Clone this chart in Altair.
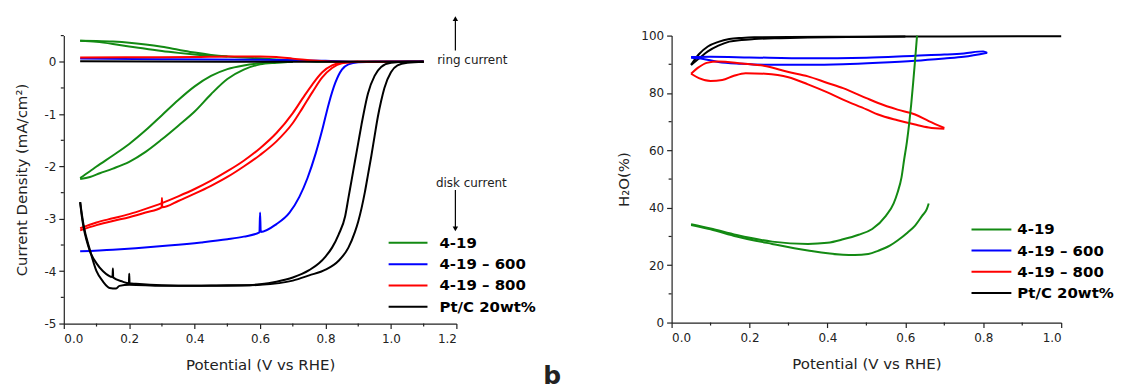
import altair as alt
import pandas as pd

SERIES = ["4-19", "4-19 – 600", "4-19 – 800", "Pt/C 20wt%"]
COLORS = ["#138a13", "#0000ff", "#ff0000", "#000000"]

# ---------------- Panel a: current density vs potential ----------------
# 4-19 (green) disk current, two scan branches
g_disk1_v = [0.05, 0.08, 0.10, 0.15, 0.20, 0.25, 0.30, 0.35, 0.40, 0.45, 0.50, 0.55, 0.60, 0.65, 0.70]
g_disk1_j = [-2.22, -2.09, -2.00, -1.79, -1.57, -1.31, -1.02, -0.73, -0.47, -0.27, -0.14, -0.07, -0.03, -0.01, 0.0]
g_disk2_v = [0.05, 0.08, 0.11, 0.15, 0.20, 0.25, 0.30, 0.35, 0.40, 0.45, 0.50, 0.55, 0.60, 0.65, 0.70]
g_disk2_j = [-2.24, -2.20, -2.13, -2.04, -1.91, -1.72, -1.48, -1.22, -0.95, -0.62, -0.33, -0.15, -0.05, -0.02, 0.0]
# 4-19 ring current, two branches
g_ring1_v = [0.05, 0.10, 0.15, 0.20, 0.25, 0.30, 0.35, 0.40, 0.45, 0.50, 0.55, 0.60, 0.65, 0.70, 0.75, 0.80, 0.90, 1.10]
g_ring1_j = [0.40, 0.395, 0.385, 0.365, 0.33, 0.285, 0.23, 0.175, 0.13, 0.10, 0.08, 0.065, 0.045, 0.025, 0.01, 0.0, 0.0, 0.0]
g_ring2_v = [0.05, 0.10, 0.15, 0.20, 0.25, 0.30, 0.35, 0.40, 0.45, 0.50]
g_ring2_j = [0.40, 0.38, 0.34, 0.29, 0.25, 0.205, 0.17, 0.14, 0.115, 0.10]

# 4-19 - 600 (blue)
b_disk_v = [0.05, 0.15, 0.22, 0.32, 0.42, 0.50, 0.55, 0.598, 0.600, 0.602, 0.65, 0.69, 0.72, 0.745, 0.77, 0.79, 0.81, 0.83, 0.85, 0.87, 0.90, 0.95, 1.10]
b_disk_j = [-3.62, -3.59, -3.56, -3.51, -3.45, -3.39, -3.34, -3.26, -2.88, -3.25, -3.10, -2.88, -2.58, -2.22, -1.75, -1.30, -0.80, -0.40, -0.15, -0.05, -0.01, 0.0, 0.0]
b_ring_v = [0.05, 0.30, 0.60, 0.80, 0.90, 1.10]
b_ring_j = [0.06, 0.05, 0.04, 0.02, 0.0, 0.01]

# 4-19 - 800 (red)
r_disk1_v = [0.05, 0.10, 0.15, 0.20, 0.25, 0.30, 0.35, 0.40, 0.45, 0.50, 0.55, 0.60, 0.65, 0.70, 0.73, 0.76, 0.79, 0.82, 0.85, 0.90, 1.10]
r_disk1_j = [-3.18, -3.07, -2.99, -2.91, -2.81, -2.70, -2.57, -2.43, -2.27, -2.09, -1.89, -1.65, -1.36, -0.98, -0.70, -0.43, -0.20, -0.07, -0.02, 0.0, 0.0]
r_disk2_v = [0.05, 0.10, 0.15, 0.20, 0.25, 0.299, 0.300, 0.301, 0.35, 0.40, 0.45, 0.50, 0.55, 0.60, 0.65, 0.70, 0.73, 0.76, 0.79, 0.82, 0.85, 0.90]
r_disk2_j = [-3.22, -3.12, -3.04, -2.97, -2.88, -2.78, -2.60, -2.78, -2.66, -2.52, -2.37, -2.20, -2.00, -1.78, -1.52, -1.17, -0.88, -0.58, -0.30, -0.12, -0.03, 0.0]
r_ring_v = [0.05, 0.20, 0.40, 0.50, 0.60, 0.65, 0.70, 0.75, 0.80, 0.85, 1.10]
r_ring_j = [0.08, 0.085, 0.09, 0.10, 0.10, 0.09, 0.06, 0.03, 0.01, 0.0, 0.0]

# Pt/C 20wt% (black)
k_disk1_v = [0.05, 0.055, 0.06, 0.07, 0.08, 0.10, 0.12, 0.149, 0.150, 0.151, 0.18, 0.199, 0.200, 0.201, 0.22, 0.30, 0.40, 0.50, 0.55, 0.60, 0.65, 0.70, 0.75, 0.78, 0.80, 0.82, 0.84, 0.86, 0.87, 0.88, 0.89, 0.90, 0.91, 0.93, 0.95, 0.97, 1.00, 1.05, 1.10]
k_disk1_j = [-2.68, -2.95, -3.15, -3.42, -3.62, -3.85, -4.00, -4.11, -3.95, -4.12, -4.20, -4.23, -4.05, -4.23, -4.24, -4.27, -4.28, -4.27, -4.27, -4.25, -4.20, -4.12, -3.98, -3.85, -3.72, -3.55, -3.30, -2.95, -2.60, -2.25, -1.90, -1.55, -1.20, -0.60, -0.27, -0.10, -0.02, 0.0, 0.0]
k_disk2_v = [0.05, 0.06, 0.08, 0.10, 0.12, 0.14, 0.16, 0.17, 0.20, 0.30, 0.50, 0.60, 0.70, 0.75, 0.80, 0.84, 0.87, 0.89, 0.90, 0.91, 0.92, 0.93, 0.94, 0.95, 0.96, 0.97, 0.98, 1.00, 1.02, 1.05, 1.10]
k_disk2_j = [-2.68, -3.10, -3.60, -4.00, -4.20, -4.32, -4.33, -4.28, -4.26, -4.28, -4.28, -4.26, -4.18, -4.08, -3.97, -3.80, -3.55, -3.25, -3.05, -2.80, -2.50, -2.15, -1.80, -1.42, -1.05, -0.75, -0.50, -0.20, -0.07, -0.02, 0.0]
k_ring_v = [0.05, 0.50, 1.10]
k_ring_j = [0.01, 0.0, 0.0]

# ---------------- Panel b: H2O (%) vs potential ----------------
g_h1_v = [0.05, 0.10, 0.167, 0.258, 0.35, 0.40, 0.44, 0.48, 0.515, 0.55, 0.57, 0.58, 0.59, 0.597, 0.604, 0.61, 0.615, 0.62, 0.625, 0.63]
g_h1_p = [34.3, 32.8, 30.5, 28.2, 27.4, 27.8, 29.0, 30.6, 32.6, 37.2, 41.5, 45.3, 50.5, 56.9, 63.0, 69.6, 76.0, 83.5, 91.5, 100.0]
g_h2_v = [0.05, 0.10, 0.167, 0.258, 0.35, 0.44, 0.47, 0.505, 0.53, 0.56, 0.58, 0.606, 0.625, 0.643, 0.655, 0.66]
g_h2_p = [34.0, 32.5, 30.0, 27.4, 25.1, 23.6, 23.5, 23.9, 25.0, 26.8, 28.6, 31.4, 33.8, 37.2, 39.5, 41.5]

b_h1_v = [0.05, 0.10, 0.20, 0.35, 0.50, 0.625, 0.70, 0.75, 0.80, 0.81]
b_h1_p = [92.5, 92.6, 92.4, 92.1, 92.3, 93.0, 93.4, 93.8, 94.5, 94.0]
b_h2_v = [0.05, 0.075, 0.12, 0.18, 0.26, 0.35, 0.44, 0.53, 0.625, 0.70, 0.75, 0.81]
b_h2_p = [92.3, 92.0, 90.8, 90.2, 89.8, 89.8, 90.0, 90.5, 91.2, 92.0, 92.6, 94.0]

r_h1_v = [0.05, 0.07, 0.09, 0.12, 0.18, 0.24, 0.30, 0.35, 0.40, 0.44, 0.50, 0.53, 0.58, 0.625, 0.66, 0.70]
r_h1_p = [86.7, 89.0, 90.5, 91.0, 90.3, 89.4, 87.3, 85.8, 83.5, 81.7, 78.2, 76.5, 74.2, 72.5, 70.2, 67.8]
r_h2_v = [0.05, 0.07, 0.10, 0.13, 0.16, 0.19, 0.24, 0.30, 0.35, 0.40, 0.44, 0.50, 0.53, 0.58, 0.625, 0.66, 0.70]
r_h2_p = [86.7, 85.2, 84.2, 84.5, 86.0, 86.9, 86.7, 85.5, 83.0, 80.2, 77.7, 74.3, 72.5, 70.5, 69.0, 68.0, 67.5]

k_h1_v = [0.05, 0.07, 0.093, 0.12, 0.148, 0.18, 0.212, 0.30, 0.50, 0.70, 1.00]
k_h1_p = [89.8, 93.5, 96.2, 97.8, 98.8, 99.2, 99.4, 99.5, 99.6, 99.7, 99.8]
k_h2_v = [0.05, 0.07, 0.093, 0.12, 0.148, 0.18, 0.212, 0.28, 0.35, 0.45, 0.60]
k_h2_p = [89.8, 92.0, 94.5, 96.5, 97.9, 98.5, 98.8, 99.1, 99.3, 99.5, 99.7]

LEFT_X_TICKS = [0, 0.2, 0.4, 0.6, 0.8, 1.0, 1.2]
LEFT_Y_TICKS = [-5, -4, -3, -2, -1, 0]
RIGHT_X_TICKS = [0, 0.2, 0.4, 0.6, 0.8, 1.0]
RIGHT_Y_TICKS = [0, 20, 40, 60, 80, 100]


def rows(table, series, curve, xs, ys):
    for x, y in zip(xs, ys):
        table.append({"series": series, "curve": curve, "v": x, "y": y})


left_rows = []
rows(left_rows, SERIES[0], "g-d1", g_disk1_v, g_disk1_j)
rows(left_rows, SERIES[0], "g-d2", g_disk2_v, g_disk2_j)
rows(left_rows, SERIES[0], "g-r1", g_ring1_v, g_ring1_j)
rows(left_rows, SERIES[0], "g-r2", g_ring2_v, g_ring2_j)
rows(left_rows, SERIES[1], "b-d", b_disk_v, b_disk_j)
rows(left_rows, SERIES[1], "b-r", b_ring_v, b_ring_j)
rows(left_rows, SERIES[2], "r-d1", r_disk1_v, r_disk1_j)
rows(left_rows, SERIES[2], "r-d2", r_disk2_v, r_disk2_j)
rows(left_rows, SERIES[2], "r-r", r_ring_v, r_ring_j)
rows(left_rows, SERIES[3], "k-d1", k_disk1_v, k_disk1_j)
rows(left_rows, SERIES[3], "k-d2", k_disk2_v, k_disk2_j)
rows(left_rows, SERIES[3], "k-r", k_ring_v, k_ring_j)
left_df = pd.DataFrame(left_rows)

right_rows = []
rows(right_rows, SERIES[3], "k-1", k_h1_v, k_h1_p)
rows(right_rows, SERIES[3], "k-2", k_h2_v, k_h2_p)
rows(right_rows, SERIES[1], "b-1", b_h1_v, b_h1_p)
rows(right_rows, SERIES[1], "b-2", b_h2_v, b_h2_p)
rows(right_rows, SERIES[2], "r-1", r_h1_v, r_h1_p)
rows(right_rows, SERIES[2], "r-2", r_h2_v, r_h2_p)
rows(right_rows, SERIES[0], "g-1", g_h1_v, g_h1_p)
rows(right_rows, SERIES[0], "g-2", g_h2_v, g_h2_p)
right_df = pd.DataFrame(right_rows)

AX = "#222222"
FONT = "DejaVu Sans"
LW, LH = 394, 289
RW, RH = 391, 288

color = alt.Color("series:N", scale=alt.Scale(domain=SERIES, range=COLORS), legend=None)

# shared encodings (scale + axis) so that every layer agrees
LX = alt.X("v:Q", scale=alt.Scale(domain=[0, 1.2], nice=False, zero=False),
           axis=alt.Axis(values=LEFT_X_TICKS, format=".1f", title="Potential (V vs RHE)"))
LY = alt.Y("y:Q", scale=alt.Scale(domain=[-5, 0.5], nice=False, zero=False),
           axis=alt.Axis(values=LEFT_Y_TICKS, labelExpr="datum.value + ''",
                         title="Current Density  (mA/cm²)", titlePadding=14))
RX = alt.X("v:Q", scale=alt.Scale(domain=[0, 1.0], nice=False, zero=False),
           axis=alt.Axis(values=RIGHT_X_TICKS, format=".1f", title="Potential (V vs RHE)"))
RY = alt.Y("y:Q", scale=alt.Scale(domain=[0, 100], nice=False),
           axis=alt.Axis(values=RIGHT_Y_TICKS, format="d", title="H₂O(%)", titlePadding=9))


def minor_ticks(xenc, yenc, xvals, yvals, h):
    mx = alt.Chart(pd.DataFrame({"v": xvals})).mark_rule(color=AX, strokeWidth=1.2).encode(
        x=xenc, y=alt.value(h), y2=alt.value(h + 3))
    my = alt.Chart(pd.DataFrame({"y": yvals})).mark_rule(color=AX, strokeWidth=1.2).encode(
        y=yenc, x=alt.value(0), x2=alt.value(-3))
    return [mx, my]


def legend_layers(x0, x1, xt, y0, dy):
    out = []
    for i, (s, c) in enumerate(zip(SERIES, COLORS)):
        d = pd.DataFrame({"label": [s]})
        yy = y0 + i * dy
        out.append(alt.Chart(d).mark_rule(color=c, strokeWidth=2).encode(
            x=alt.value(x0), x2=alt.value(x1), y=alt.value(yy)))
        out.append(alt.Chart(d).mark_text(align="left", baseline="middle", font=FONT,
                                          fontSize=15, fontWeight="bold", color="#000").encode(
            x=alt.value(xt), y=alt.value(yy), text="label:N"))
    return out


def note(text, x, y, size=12, weight="normal", baseline="middle"):
    return alt.Chart(pd.DataFrame({"t": [text]})).mark_text(
        align="center", baseline=baseline, font=FONT, fontSize=size, fontWeight=weight, color="#222"
    ).encode(x=alt.value(x), y=alt.value(y), text="t:N")


def arrow(x, y_from, y_to, up):
    d = pd.DataFrame({"a": [1]})
    shaft = alt.Chart(d).mark_rule(color="#000", strokeWidth=1.2).encode(
        x=alt.value(x), y=alt.value(y_from), y2=alt.value(y_to))
    head = alt.Chart(d).mark_point(shape="triangle-up" if up else "triangle-down", filled=True,
                                   color="#000", size=30, opacity=1).encode(
        x=alt.value(x), y=alt.value(y_to))
    return [shaft, head]


left_lines = alt.Chart(left_df).mark_line(strokeWidth=2, interpolate="monotone").encode(
    x=LX, y=LY, color=color, detail="curve:N")

left = alt.layer(
    left_lines,
    *minor_ticks(LX, LY, [0.1, 0.3, 0.5, 0.7, 0.9, 1.1], [-4.5, -3.5, -2.5, -1.5, -0.5, 0.5], LH),
    *arrow(393, 15, -17, True),
    note("ring current", 410, 25),
    note("disk current", 409, 148),
    *arrow(393, 155, 194, False),
    *legend_layers(326, 365, 377, 208, 21.4),
    note("b", 490, 350, size=25, weight="bold", baseline="alphabetic"),
).properties(width=LW, height=LH)

right_lines = alt.Chart(right_df).mark_line(strokeWidth=2, interpolate="monotone").encode(
    x=RX, y=RY, color=color, detail="curve:N")

right = alt.layer(
    right_lines,
    *minor_ticks(RX, RY, [0.1, 0.3, 0.5, 0.7, 0.9], [10, 30, 50, 70, 90], RH),
    *legend_layers(301, 341, 347, 194.5, 21.3),
).properties(width=RW, height=RH)

chart = alt.hconcat(left, right, spacing=216, bounds="flush").properties(
    padding={"left": 7, "top": 7, "right": 0, "bottom": 0}
).configure_view(stroke=None).configure_axis(
    grid=False,
    domainColor=AX, tickColor=AX, labelColor=AX, titleColor=AX,
    domainWidth=1.2, tickWidth=1.2, tickSize=5,
    labelFont=FONT, labelFontSize=12, labelPadding=3,
    titleFont=FONT, titleFontSize=15, titleFontWeight="normal",
).configure_axisX(titlePadding=13, labelPadding=5)

chart.save("out.html", embed_options={"renderer": "svg", "actions": False})
